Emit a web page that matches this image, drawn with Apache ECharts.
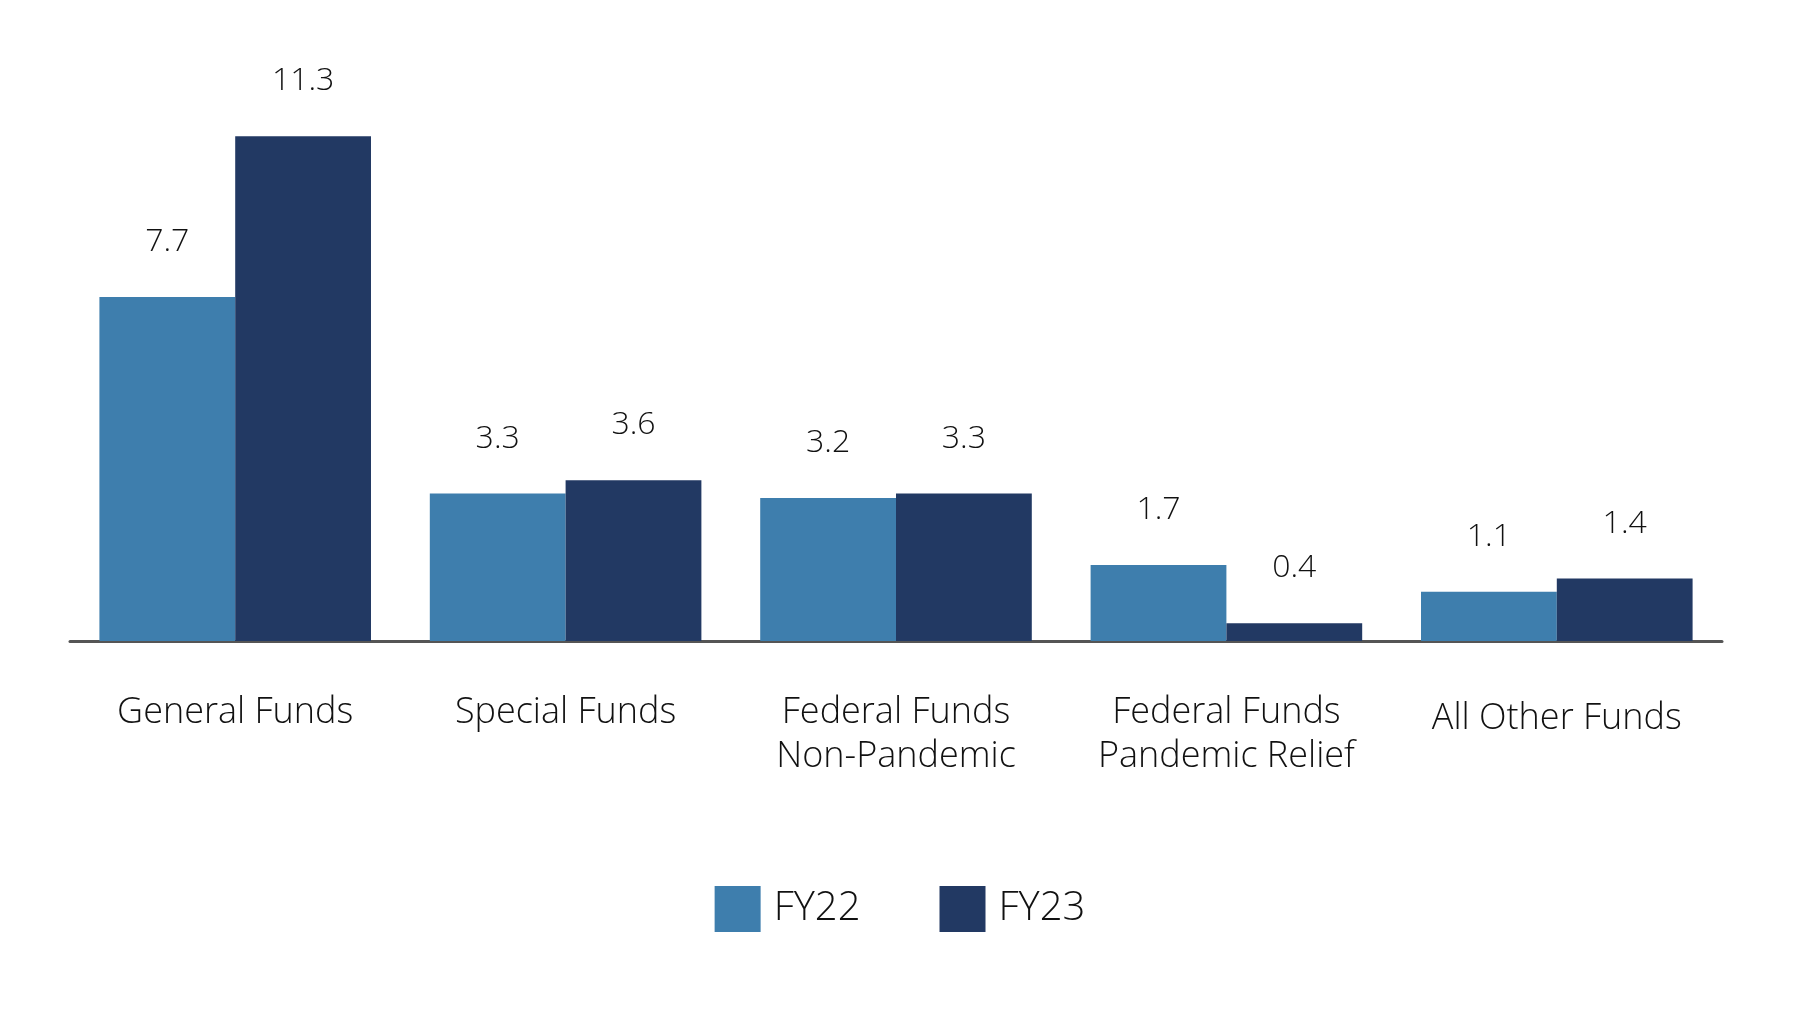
<!DOCTYPE html>
<html>
<head>
<meta charset="utf-8">
<script src="https://cdn.jsdelivr.net/npm/echarts@6/dist/echarts.min.js"></script>
<style>
html,body{margin:0;padding:0;background:#fff;}
#chart{width:1800px;height:1018px;}
</style>
</head>
<body>
<div id="chart"></div>
<script>
var categories = ['General Funds', 'Special Funds', 'Federal Funds\nNon-Pandemic', 'Federal Funds\nPandemic Relief', 'All Other Funds'];
var seriesNames = ['FY22', 'FY23'];
var fy22 = [7.7, 3.3, 3.2, 1.7, 1.1];
var fy23 = [11.3, 3.6, 3.3, 0.4, 1.4];
var colors = ['#3e7ead', '#223963'];

var FONT = 'Open Sans';
var chart = echarts.init(document.getElementById('chart'), null, {renderer: 'canvas'});

function labelCfg() {
  return {
    show: true,
    position: 'top',
    distance: 39,
    color: '#111',
    fontFamily: FONT,
    fontWeight: 300,
    fontSize: 32,
    formatter: function (p) { return p.value.toFixed(1); }
  };
}

var catData = categories.map(function (c, i) {
  return i === categories.length - 1 ? {value: c, textStyle: {padding: [6, 0, 0, 0]}} : c;
});

chart.setOption({
  animation: false,
  backgroundColor: '#ffffff',
  color: colors,
  grid: {left: 70, right: 78, top: 105, bottom: 377, containLabel: false},
  legend: {
    data: seriesNames,
    bottom: 81,
    left: 'center',
    itemWidth: 46,
    itemHeight: 46,
    itemGap: 79,
    icon: 'rect',
    textStyle: {fontFamily: FONT, fontWeight: 300, fontSize: 40, color: '#111', padding: [0, 0, 0, 8]}
  },
  xAxis: {
    type: 'category',
    data: catData,
    axisLine: {show: true, lineStyle: {color: '#555555', width: 3}},
    axisTick: {show: false},
    axisLabel: {
      margin: 50,
      color: '#111',
      fontFamily: FONT,
      fontWeight: 300,
      fontSize: 36,
      lineHeight: 44,
      interval: 0
    }
  },
  yAxis: {
    type: 'value',
    min: 0,
    max: 12,
    show: false,
    splitLine: {show: false}
  },
  series: [
    {name: seriesNames[0], type: 'bar', data: fy22, barGap: '0%', barCategoryGap: '17.8%', label: labelCfg(), itemStyle: {color: colors[0]}},
    {name: seriesNames[1], type: 'bar', data: fy23, barGap: '0%', barCategoryGap: '17.8%', label: labelCfg(), itemStyle: {color: colors[1]}}
  ]
});
</script>
</body>
</html>
